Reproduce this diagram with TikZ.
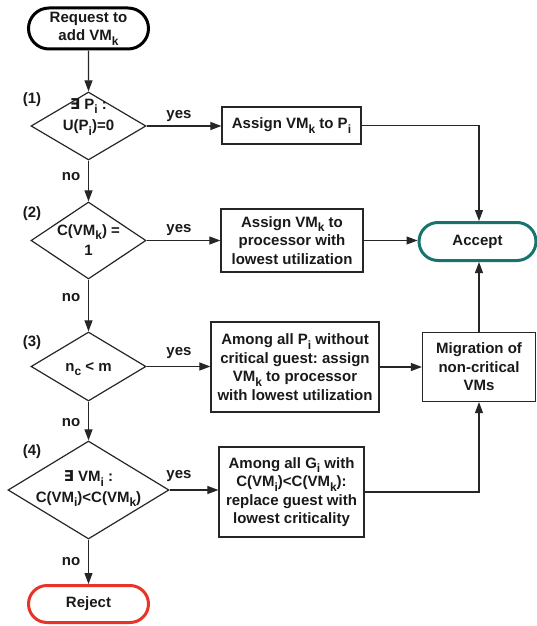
\documentclass[tikz,border=0pt]{standalone}
\usepackage{fontspec}
\setmainfont{Liberation Sans}
\newfontfamily\symfont{DejaVu Sans}
\usetikzlibrary{shapes.geometric,shapes.misc,arrows.meta}
\definecolor{acceptcol}{RGB}{22,116,108}
\definecolor{rejectcol}{RGB}{232,52,40}
\frenchspacing
% lowered index in the running bold font
\newcommand\lowsub[1]{\raisebox{-0.3em}{\fontsize{12}{12}\selectfont #1}}
\newcommand\exsym{{\symfont\bfseries ∃}}
\begin{document}
\begin{tikzpicture}[x=1pt,y=-1pt,
  font=\fontsize{15}{18.5}\selectfont\bfseries,
  every node/.style={text=black!90},
  procbox/.style={draw=black!85, line width=1.2pt, rectangle, align=center, inner sep=0pt},
  termbox/.style={rounded rectangle, line width=3pt, align=center, inner sep=0pt},
  decbox/.style={diamond, draw=black!85, line width=1.2pt, inner sep=0pt},
  arr/.style={draw=black!85, line width=1.1pt, -{Triangle[length=11pt,width=8pt]}},
  lbl/.style={inner sep=0pt}]
\useasboundingbox (0,0) rectangle (537,626);

% terminals
\node[termbox, draw=black, minimum width=120, minimum height=41] (start) at (88.5,28.5) {Request to\\add VM\lowsub{k}};
\node[termbox, draw=acceptcol, minimum width=117, minimum height=38] (accept) at (477.5,241.5) {Accept};
\node[termbox, draw=rejectcol, minimum width=120, minimum height=37] (reject) at (88.5,604) {Reject};

% decisions
\node[decbox, minimum width=115, minimum height=68] (d1) at (88.5,126) {};
\node[lbl, align=center] (t1) at (88.5,117) {\exsym{} P\lowsub{i} :\\[3pt]U(P\lowsub{i})=0};
\node[decbox, minimum width=115, minimum height=77] (d2) at (88.5,240.5) {};
\node[lbl, align=center] (t2) at (88.5,240) {C(VM\lowsub{k}) =\\[2pt]1};
\node[decbox, minimum width=115, minimum height=69] (d3) at (88.5,366.5) {};
\node[lbl] (t3) at (88.5,369) {n\lowsub{c} < m};
\node[decbox, minimum width=161, minimum height=98] (d4) at (88.5,490) {};
\node[lbl, align=center] (t4) at (88.5,489) {\exsym{} VM\lowsub{i} :\\[2pt]C(VM\lowsub{i})<C(VM\lowsub{k})};

% processing steps
\node[procbox, minimum width=139, minimum height=37] (b1) at (291.5,125.5) {Assign VM\lowsub{k} to P\lowsub{i}};
\node[procbox, minimum width=142, minimum height=63] (b2) at (292,240.5) {Assign VM\lowsub{k} to\\processor with\\lowest utilization};
\node[procbox, minimum width=168, minimum height=90] (b3) at (295,367) {Among all P\lowsub{i} without\\critical guest: assign\\VM\lowsub{k} to processor\\with lowest utilization};
\node[procbox, minimum width=145, minimum height=90] (b4) at (291.5,492) {Among all G\lowsub{i} with\\C(VM\lowsub{i})<C(VM\lowsub{k}):\\replace guest with\\lowest criticality};
\node[procbox, minimum width=113, minimum height=69] (mig) at (479,367) {Migration of\\non-critical\\VMs};

% step numbers
\node[lbl] (n1) at (32,100) {(1)};
\node[lbl] (n2) at (32,214) {(2)};
\node[lbl] (n3) at (32,343) {(3)};
\node[lbl] (n4) at (32,452) {(4)};

% main "no" chain
\draw[arr] (start) -- (d1);
\draw[arr] (d1) -- (d2);
\draw[arr] (d2) -- (d3);
\draw[arr] (d3) -- (d4);
\draw[arr] (d4) -- (reject);
\node[lbl] (no1) at (71,177) {no};
\node[lbl] (no2) at (71,298) {no};
\node[lbl] (no3) at (71,423) {no};
\node[lbl] (no4) at (71,562) {no};

% "yes" branches
\draw[arr] (d1.east) -- (d1.east -| b1.west);
\draw[arr] (d2.east) -- (d2.east -| b2.west);
\draw[arr] (d3.east) -- (d3.east -| b3.west);
\draw[arr] (d4.east) -- (d4.east -| b4.west);
\node[lbl] (y1) at (179,116) {yes};
\node[lbl] (y2) at (179,230) {yes};
\node[lbl] (y3) at (179,353) {yes};
\node[lbl] (y4) at (179,476) {yes};

% towards acceptance
\draw[arr] (b1.east) -| (mig.north |- accept.north);
\draw[arr] (b2.east) -- (b2.east -| accept.west);
\draw[arr] (b3.east) -- (b3.east -| mig.west);
\draw[arr] (b4.east) -| (mig.south);
\draw[arr] (mig.north) -- (mig.north |- accept.south);
\end{tikzpicture}
\end{document}
